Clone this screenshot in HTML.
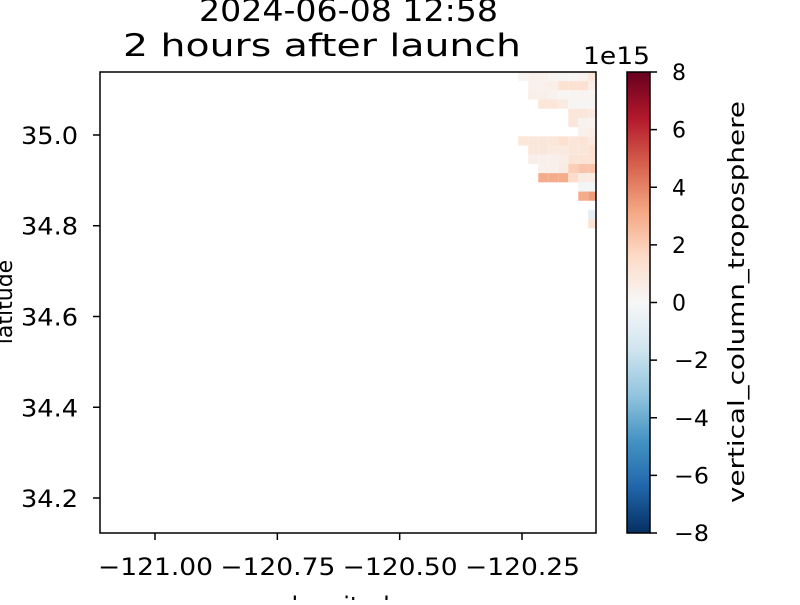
<!DOCTYPE html>
<html><head><meta charset="utf-8"><style>
body{margin:0;background:#fff}
svg text{font-family:"DejaVu Sans","Liberation Sans",sans-serif;fill:#000}
</style></head><body>
<svg id="chart" width="800" height="600" viewBox="0 0 800 600">
<defs><linearGradient id="cbg" x1="0" y1="1" x2="0" y2="0">
<stop offset="0" stop-color="#053061"/><stop offset="0.1" stop-color="#2166ac"/><stop offset="0.2" stop-color="#4393c3"/><stop offset="0.3" stop-color="#92c5de"/><stop offset="0.4" stop-color="#d1e5f0"/><stop offset="0.5" stop-color="#f7f7f7"/><stop offset="0.6" stop-color="#fddbc7"/><stop offset="0.7" stop-color="#f4a582"/><stop offset="0.8" stop-color="#d6604d"/><stop offset="0.9" stop-color="#b2182b"/><stop offset="1" stop-color="#67001f"/>
</linearGradient></defs>
<text x="199" y="21" font-size="31" textLength="299" lengthAdjust="spacingAndGlyphs">2024-06-08 12:58</text>
<text x="123" y="56" font-size="31" textLength="398" lengthAdjust="spacingAndGlyphs">2 hours after launch</text>
<g id="cells"></g>
<rect x="100" y="72" width="496" height="461" fill="none" stroke="#000" stroke-width="1.5"/>
<g id="axes"></g>
<rect x="627" y="72" width="23" height="461" fill="url(#cbg)" stroke="#000" stroke-width="1.5"/>
<text x="583" y="64" font-size="24" textLength="67" lengthAdjust="spacingAndGlyphs">1e15</text>
<g id="cbaxis"></g>
<text transform="translate(744,302) rotate(-90)" text-anchor="middle" font-size="22" textLength="402" lengthAdjust="spacingAndGlyphs">vertical_column_troposphere</text>
<text transform="translate(12,302) rotate(-90)" text-anchor="middle" font-size="22">latitude</text>
<text x="348" y="614" text-anchor="middle" font-size="24">longitude</text>
</svg>
<script>
const xTicks=[-121.00,-120.75,-120.50,-120.25];
const yTicks=[34.2,34.4,34.6,34.8,35.0];
const cbTicks=[-8,-6,-4,-2,0,2,4,6,8];
const lonStart=-120.2577, dLon=0.02044, latTop=35.139, dLat=0.02028;
// rows top->bottom, columns left->right from lonStart; null = no data (values in 1e15)
const rows=[
[0.2,0.4,0.4,0.2,0.1,0.1,0.3,1.0],
[null,0.4,0.4,0.5,1.2,1.2,1.3,0.6],
[null,0.5,0.5,0.3,0.2,0.2,0.2,0.2],
[null,null,1.0,1.0,0.7,0.1,0.1,0.1],
[null,null,null,null,null,1.0,1.0,0.8],
[null,null,null,null,null,0.9,0.3,0.3],
[null,null,null,null,null,null,0.4,0.6],
[1.0,0.9,0.9,1.0,1.3,1.0,1.1,0.8],
[null,0.9,0.9,0.8,0.8,1.0,0.9,1.3],
[null,0.5,0.4,0.4,0.6,1.1,1.1,1.2],
[null,null,0.4,0.4,0.7,2.0,2.3,2.3],
[null,null,3.0,3.0,3.0,1.5,0.7,0.7],
[null,null,null,null,null,null,-0.2,-0.2],
[null,null,null,null,null,null,3.0,3.4],
[null,null,null,null,null,null,null,null],
[null,null,null,null,null,null,null,-0.8],
[null,null,null,null,null,null,null,1.2]
];
const NS="http://www.w3.org/2000/svg";
const X0=-121.1124,X1=-120.0988,Y0=34.1229,Y1=35.1388;
const px0=100,px1=596,py0=533,py1=72;
const sx=v=>px0+(v-X0)/(X1-X0)*(px1-px0);
const sy=v=>py0-(v-Y0)/(Y1-Y0)*(py0-py1);
const cy=v=>533-(v+8)/16*461;
const stops=[[5,48,97],[33,102,172],[67,147,195],[146,197,222],[209,229,240],[247,247,247],[253,219,199],[244,165,130],[214,96,77],[178,24,43],[103,0,31]];
function color(v){let t=Math.max(0,Math.min(1,(v+8)/16))*10;let i=Math.min(9,Math.floor(t)),f=t-i;const a=stops[i],b=stops[i+1];return `rgb(${a.map((c,k)=>Math.round(c+(b[k]-c)*f)).join(',')})`;}
function mk(tag,attrs,parent){const e=document.createElementNS(NS,tag);for(const k in attrs)e.setAttribute(k,attrs[k]);parent.appendChild(e);return e;}
const cg=document.getElementById('cells');
rows.forEach((r,ri)=>r.forEach((v,ci)=>{if(v===null)return;
const x=sx(lonStart+ci*dLon),x2=Math.min(sx(lonStart+(ci+1)*dLon),596);
const y=sy(latTop-ri*dLat),y2=sy(latTop-(ri+1)*dLat);
const e=mk('rect',{x:x,y:Math.max(y,72),width:x2-x,height:y2-Math.max(y,72),fill:color(v)},cg);

}));
const ax=document.getElementById('axes');
xTicks.forEach(t=>{const x=sx(t);mk('line',{x1:x,x2:x,y1:533,y2:540,stroke:'#000','stroke-width':1.5},ax);
const e=mk('text',{x:x-57,y:575,'font-size':24,textLength:115,lengthAdjust:'spacingAndGlyphs'},ax);e.textContent='\u2212'+Math.abs(t).toFixed(2);

});
yTicks.forEach(t=>{const y=sy(t);mk('line',{x1:93,x2:100,y1:y,y2:y,stroke:'#000','stroke-width':1.5},ax);
const e=mk('text',{x:21,y:y+9,'font-size':24,textLength:57,lengthAdjust:'spacingAndGlyphs'},ax);e.textContent=t.toFixed(1);

});
const cb=document.getElementById('cbaxis');
cbTicks.forEach(t=>{const y=cy(t);mk('line',{x1:650,x2:657,y1:y,y2:y,stroke:'#000','stroke-width':1.5},cb);
const s=(t<0?'\u2212':'')+Math.abs(t);
const e=mk('text',{x:t<0?674:672,y:y+8,'font-size':22,textLength:t<0?35:14,lengthAdjust:'spacingAndGlyphs'},cb);e.textContent=s;

});
</script>
</body></html>
